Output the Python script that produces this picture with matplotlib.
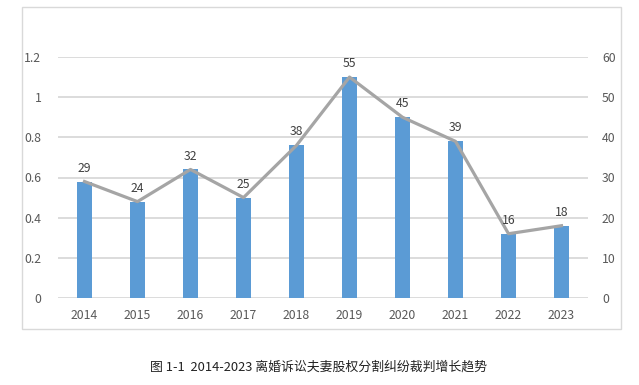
import matplotlib

matplotlib.use("Agg")
import matplotlib.pyplot as plt  # noqa: E402
from matplotlib.patches import Rectangle  # noqa: E402

plt.rcParams["font.family"] = ["Noto Sans CJK SC", "DejaVu Sans"]

# --- data ---
years = ["2014", "2015", "2016", "2017", "2018", "2019", "2020", "2021", "2022", "2023"]
bar_vals = [0.58, 0.48, 0.64, 0.50, 0.76, 1.10, 0.90, 0.78, 0.32, 0.36]  # left axis
cases = [29, 24, 32, 25, 38, 55, 45, 39, 16, 18]  # right axis, line + labels
left_ticks = [0, 0.2, 0.4, 0.6, 0.8, 1, 1.2]
left_tick_labels = ["0", "0.2", "0.4", "0.6", "0.8", "1", "1.2"]
right_ticks = [0, 10, 20, 30, 40, 50, 60]
caption = "图 1-1  2014-2023 离婚诉讼夫妻股权分割纠纷裁判增长趋势"

BAR = "#5B9BD5"
LINE = "#A5A5A5"
GRID = "#D9D9D9"
TXT = "#595959"

fig = plt.figure(figsize=(6.39, 3.85), dpi=100)
W, H = 639, 385
ax = fig.add_axes([58 / W, 1 - 298 / H, (588 - 58) / W, (298 - 57) / H])
ax2 = ax.twinx()

x = list(range(len(years)))
ax.bar(x, bar_vals, width=0.3, color=BAR, zorder=2)
ax.set_ylim(0, 1.2)
ax.set_xlim(-0.5, len(years) - 0.5)
ax.set_yticks(left_ticks, left_tick_labels)
ax.set_xticks(x, years)
ax.grid(axis="y", color=GRID, linewidth=1.3, zorder=0)
ax.set_axisbelow(True)

ax2.plot(x, cases, color=LINE, linewidth=2.3, zorder=3)
ax2.set_ylim(0, 60)
ax2.set_yticks(right_ticks)
for xi, v in zip(x, cases):
    ax2.annotate(str(v), (xi, v), xytext=(0, 5), textcoords="offset points",
                 ha="center", va="bottom", fontsize=8.8, color="#404040")

for a in (ax, ax2):
    for s in a.spines.values():
        s.set_visible(False)
    a.tick_params(length=0, labelsize=8.8, labelcolor=TXT)
ax.tick_params(axis="y", pad=12)
ax.tick_params(axis="x", pad=8)
ax2.tick_params(axis="y", pad=10)

# outer chart frame
fig.patches.append(Rectangle((22 / W, 1 - 329 / H), (621 - 22) / W, (329 - 7) / H,
                             transform=fig.transFigure, fill=False,
                             edgecolor=GRID, linewidth=1.0))

fig.text(319 / W, 1 - 367 / H, caption, ha="center", va="center",
         fontsize=9.3, color="#222222")

fig.savefig("out.png", dpi=100)
